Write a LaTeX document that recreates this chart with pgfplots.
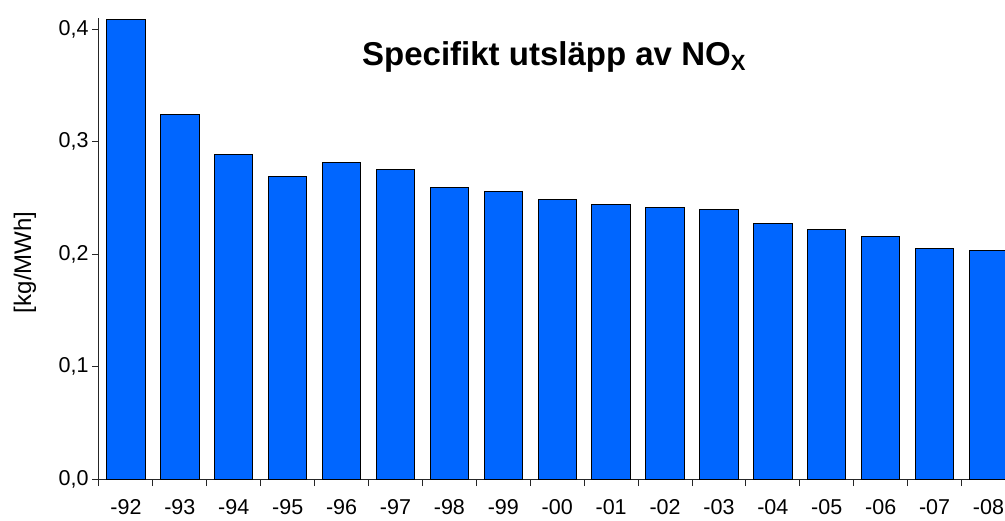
\documentclass[border=0pt]{standalone}
\usepackage{pgfplots}
\pgfplotsset{compat=1.18}
\usepackage{fontspec}
\setmainfont{Liberation Sans}
\definecolor{barblue}{RGB}{0,102,255}
\begin{document}
\begin{tikzpicture}[x=1pt,y=1pt]
\useasboundingbox (0,0) rectangle (1005,520);
\begin{axis}[
  at={(99pt,41pt)}, anchor=south west,
  scale only axis, width=906pt, height=461pt,
  xmin=-0.5, xmax=16.306, ymin=0, ymax=0.410,
  axis lines*=left,
  axis line style={-, line width=1pt, black!85},
  tick align=outside,
  every tick/.style={black!85, line width=1pt},
  xtick={0,...,16},
  xticklabels={-92,-93,-94,-95,-96,-97,-98,-99,-00,-01,-02,-03,-04,-05,-06,-07,-08},
  major x tick style={draw=none},
  minor xtick={-0.5,0.5,...,16.5},
  minor tick length=7pt,
  major tick length=7pt,
  ytick={0,0.1,0.2,0.3,0.4},
  /pgf/number format/.cd, use comma, fixed, fixed zerofill, precision=1, assume math mode=true,
  /pgfplots/.cd,
  ticklabel style={font=\fontsize{21.5}{24}\selectfont},
  xticklabel style={anchor=base, inner sep=0pt, yshift=-28pt},
  ylabel={[kg/MWh]},
  ylabel style={at={(rel axis cs:-0.0817,0.47)}, anchor=center, rotate=0, font=\fontsize{24}{27}\selectfont},
  title={\bfseries Specifikt utsläpp av NO\raisebox{-5pt}{\fontsize{22}{25}\selectfont X}},
  title style={at={(rel axis cs:0.502,0.883)}, anchor=base, font=\fontsize{33}{38}\selectfont},
  ybar, bar width=38.3pt, bar shift=0pt,
  clip=true,
]
\addplot[fill=barblue, draw=black, line width=1pt] coordinates {
 (0,0.4083) (1,0.3244) (2,0.2888) (3,0.2686) (4,0.2817) (5,0.2755)
 (6,0.2595) (7,0.2556) (8,0.2484) (9,0.2437) (10,0.2417) (11,0.2395)
 (12,0.2274) (13,0.2221) (14,0.2159) (15,0.2049) (16,0.2028)
};
\end{axis}
\end{tikzpicture}
\end{document}
